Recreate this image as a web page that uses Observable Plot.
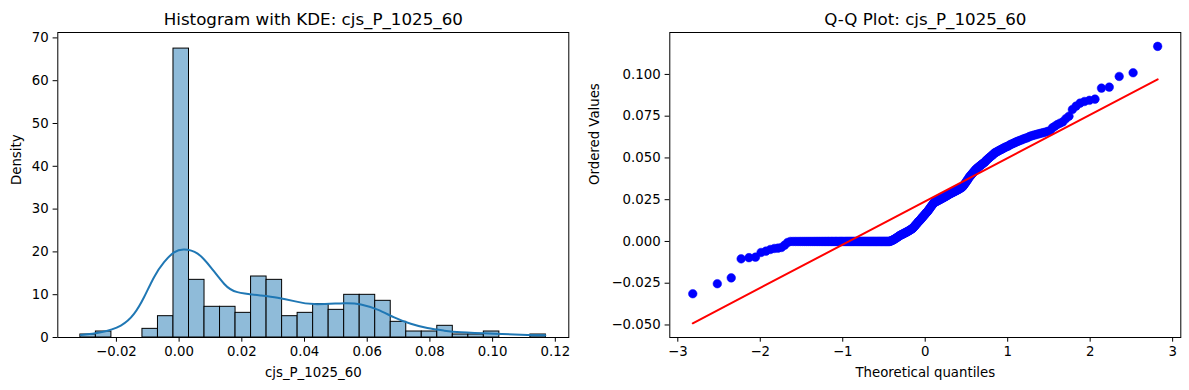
<!DOCTYPE html>
<html><head><meta charset="utf-8">
<script src="https://cdn.jsdelivr.net/npm/d3@7"></script>
<script src="https://cdn.jsdelivr.net/npm/@observablehq/plot@0.6"></script>
<style>
html,body{margin:0;padding:0;background:#fff;}
#wrap{position:relative;width:1189px;height:390px;overflow:hidden;}
#left,#right{position:absolute;top:0;}
#left{left:0px;} #right{left:580px;}
svg{overflow:visible;}
</style></head><body>
<div id="wrap"><div id="left"></div><div id="right"></div></div>
<script>
// ---- Data ----
const varName = "cjs_P_1025_60";
const titleLeft = "Histogram with KDE: " + varName;
const titleRight = "Q-Q Plot: " + varName;

// histogram: 30 equal bins from binStart, density per bin
const binStart = -0.0315;
const binEnd = 0.1170;
const histDensity = [0.70, 1.40, 0, 0, 2.02, 4.98, 67.5, 13.47, 7.17, 7.17,
                     5.76, 14.25, 13.47, 4.98, 5.76, 7.79, 6.46, 9.97, 9.97, 8.57,
                     3.66, 1.40, 1.40, 2.73, 0.70, 0.70, 1.40, 0, 0, 0.70];

// KDE curve points
const kdeX = [-0.0313, -0.0250, -0.0186, -0.0144, -0.0112, -0.0080, -0.0048, -0.0016, 0.0016, 0.0059,
              0.0101, 0.0144, 0.0186, 0.0261, 0.0314, 0.0367, 0.0431, 0.0526, 0.0580, 0.0633,
              0.0686, 0.0739, 0.0792, 0.0845, 0.0899, 0.1005, 0.1111, 0.1168];
const kdeY = [0.6, 1.24, 2.8, 5.5, 9.4, 14.1, 17.6, 19.9, 20.56, 19.6,
              16.4, 12.5, 10.6, 9.8, 9.3, 8.5, 7.8, 8.0, 7.7, 6.5,
              4.7, 3.2, 2.2, 1.6, 1.2, 0.85, 0.6, 0.5];

// ordered sample values for the Q-Q plot
const orderedValues = [
 -0.0313,-0.0253,-0.0218,-0.0104,-0.0097,-0.0094,-0.0066,-0.0058,-0.0048,-0.0042,-0.0040,-0.0036,-0.0022,-0.0006,
 0,0,0,0,0,0,0,0,0,0,0,0,0,0,0,0,0,0,0,0,
 0,0,0,0,0,0,0,0,0,0,0,0,0,0,0,0,0,0,0,0,
 0,0,0,0,0,0,0,0,0,0,0,0,0,0,0,0,0,0,0,0,
 0,0,0,0,0,0,0,0,0,0,0,0,0,0,0,0,0,0,0,0,
 0,0,
 0.0002,0.0004,0.0006,0.0008,0.0011,0.0013,0.0016,0.0019,0.0022,0.0025,0.0028,0.0031,
 0.0035,0.0037,0.0040,0.0042,0.0044,0.0046,0.0049,0.0051,0.0053,0.0056,0.0058,0.0060,0.0063,0.0066,0.0068,0.0071,0.0074,0.0077,0.0080,
 0.0085,0.0090,0.0095,0.0100,0.0105,0.0110,0.0115,0.0120,0.0124,0.0128,
 0.0134,0.0139,0.0144,0.0149,0.0154,0.0159,0.0164,0.0169,0.0174,0.0178,
 0.0184,0.0190,0.0196,0.0202,0.0208,0.0214,0.0220,0.0226,
 0.0232,0.0234,0.0236,0.0239,0.0241,0.0243,0.0246,0.0248,0.0250,0.0253,0.0255,0.0257,0.0260,0.0262,0.0265,0.0267,0.0270,0.0272,0.0275,0.0277,
 0.0281,0.0283,0.0286,0.0288,0.0290,0.0293,0.0295,0.0297,0.0300,0.0302,0.0304,0.0307,0.0309,0.0312,0.0314,0.0317,0.0320,0.0323,0.0326,
 0.0332,0.0338,0.0345,0.0352,0.0359,0.0366,0.0373,
 0.0382,0.0388,0.0394,0.0400,0.0406,0.0412,0.0418,0.0424,
 0.0431,0.0435,0.0440,0.0444,0.0449,0.0453,0.0457,0.0462,0.0466,0.0470,0.0474,
 0.0481,0.0486,0.0492,0.0497,0.0502,0.0507,0.0512,0.0517,0.0522,
 0.0529,0.0532,0.0536,0.0539,0.0543,0.0546,0.0550,0.0553,0.0557,0.0560,0.0564,0.0567,0.0570,0.0573,
 0.0579,0.0582,0.0585,0.0589,0.0592,0.0596,0.0599,0.0603,0.0606,0.0609,0.0613,0.0616,0.0619,0.0622,
 0.0628,0.0631,0.0634,0.0637,0.0640,0.0643,0.0646,0.0649,0.0652,0.0655,0.0659,0.0663,
 0.0680,0.0690,0.0700,0.0708,0.0716,
 0.0735,0.0750,
 0.0790,0.0810,
 0.0828,0.0838,0.0845,0.0852,
 0.0918,0.0924,0.0988,0.1010,0.1168
];

// tick values
const histXTicks = [-0.02, 0.00, 0.02, 0.04, 0.06, 0.08, 0.10, 0.12];
const histYTicks = [0, 10, 20, 30, 40, 50, 60, 70];
const qqXTicks = [-3, -2, -1, 0, 1, 2, 3];
const qqYTicks = [-0.050, -0.025, 0.000, 0.025, 0.050, 0.075, 0.100];

// ---- helpers ----
function normInv(p){
  const a=[-3.969683028665376e+01,2.209460984245205e+02,-2.759285104469687e+02,1.383577518672690e+02,-3.066479806614716e+01,2.506628277459239e+00];
  const b=[-5.447609879822406e+01,1.615858368580409e+02,-1.556989798598866e+02,6.680131188771972e+01,-1.328068155288572e+01];
  const c=[-7.784894002430293e-03,-3.223964580411365e-01,-2.400758277161838e+00,-2.549732539343734e+00,4.374664141464968e+00,2.938163982698783e+00];
  const d=[7.784695709041462e-03,3.224671290700398e-01,2.445134137142996e+00,3.754408661907416e+00];
  const pl=0.02425, ph=1-pl; let q, r;
  if (p < pl) { q=Math.sqrt(-2*Math.log(p)); return (((((c[0]*q+c[1])*q+c[2])*q+c[3])*q+c[4])*q+c[5])/((((d[0]*q+d[1])*q+d[2])*q+d[3])*q+1); }
  if (p <= ph) { q=p-0.5; r=q*q; return (((((a[0]*r+a[1])*r+a[2])*r+a[3])*r+a[4])*r+a[5])*q/(((((b[0]*r+b[1])*r+b[2])*r+b[3])*r+b[4])*r+1); }
  q=Math.sqrt(-2*Math.log(1-p)); return -(((((c[0]*q+c[1])*q+c[2])*q+c[3])*q+c[4])*q+c[5])/((((d[0]*q+d[1])*q+d[2])*q+d[3])*q+1);
}

const FONT = "DejaVu Sans";
const TICK = 13.3;
const TITLE = 16.7;
const style = {fontFamily: FONT, fontSize: TICK + "px", color: "black", background: "white", overflow: "visible"};

// ---- left: histogram + KDE ----
const nb = histDensity.length;
const bw = (binEnd - binStart) / nb;
const histData = histDensity.map((y, i) => ({x1: binStart + i * bw, x2: binStart + (i + 1) * bw, y})).filter(d => d.y > 0);
const kdeData = kdeX.map((x, i) => ({x, y: kdeY[i]}));

const left = Plot.plot({
  width: 580, height: 390,
  marginLeft: 57.3, marginRight: 11.7, marginTop: 32, marginBottom: 53,
  style,
  x: {domain: [-0.0387, 0.1243]},
  y: {domain: [0, 71.26]},
  marks: [
    Plot.rect(histData, {x1: "x1", x2: "x2", y1: 0, y2: "y", fill: "#8fbbd9", stroke: "black", strokeWidth: 1}),
    Plot.line(kdeData, {x: "x", y: "y", stroke: "#1f77b4", strokeWidth: 2, curve: "natural"}),
    Plot.frame({stroke: "black", strokeWidth: 1}),
    Plot.axisX(histXTicks, {tickFormat: d3.format(".2f"), tickSize: 4.7, tickPadding: 4, label: null, fontSize: TICK}),
    Plot.axisY(histYTicks, {tickFormat: d3.format("d"), tickSize: 4.7, tickPadding: 4.5, label: null, fontSize: TICK}),
    Plot.text([titleLeft], {text: d => d, frameAnchor: "top", lineAnchor: "bottom", dy: -8, fontSize: TITLE, fill: "black"}),
    Plot.text([varName], {text: d => d, frameAnchor: "bottom", lineAnchor: "bottom", dy: 39, fontSize: TICK, fill: "black"}),
    Plot.text(["Density"], {text: d => d, frameAnchor: "left", rotate: -90, dx: -41, fontSize: TICK, fill: "black"})
  ]
});
document.getElementById("left").appendChild(left);

// ---- right: Q-Q plot ----
const n = orderedValues.length;
const probs = orderedValues.map((_, i) => i === 0 ? 1 - Math.pow(0.5, 1 / n)
                                    : i === n - 1 ? Math.pow(0.5, 1 / n)
                                    : (i + 1 - 0.3175) / (n + 0.365));
const qq = orderedValues.map((v, i) => ({q: normInv(probs[i]), v}));
const mq = d3.mean(qq, d => d.q), mv = d3.mean(qq, d => d.v);
const slope = d3.sum(qq, d => (d.q - mq) * (d.v - mv)) / d3.sum(qq, d => (d.q - mq) ** 2);
const intercept = mv - slope * mq;
const fit = [qq[0], qq[n - 1]].map(d => ({q: d.q, v: intercept + slope * d.q}));

const right = Plot.plot({
  width: 609, height: 390,
  marginLeft: 89.3, marginRight: 8.7, marginTop: 32, marginBottom: 53,
  style,
  x: {domain: [-3.097, 3.099]},
  y: {domain: [-0.0575, 0.1251]},
  marks: [
    Plot.dot(qq, {x: "q", y: "v", r: 4.3, fill: "blue", stroke: "blue", strokeWidth: 0.5}),
    Plot.line(fit, {x: "q", y: "v", stroke: "red", strokeWidth: 2}),
    Plot.frame({stroke: "black", strokeWidth: 1}),
    Plot.axisX(qqXTicks, {tickFormat: d3.format("d"), tickSize: 4.7, tickPadding: 4, label: null, fontSize: TICK}),
    Plot.axisY(qqYTicks, {tickFormat: d3.format(".3f"), tickSize: 4.7, tickPadding: 4.5, label: null, fontSize: TICK}),
    Plot.text([titleRight], {text: d => d, frameAnchor: "top", lineAnchor: "bottom", dy: -8, fontSize: TITLE, fill: "black"}),
    Plot.text(["Theoretical quantiles"], {text: d => d, frameAnchor: "bottom", lineAnchor: "bottom", dy: 39, fontSize: TICK, fill: "black"}),
    Plot.text(["Ordered Values"], {text: d => d, frameAnchor: "left", rotate: -90, dx: -75.3, fontSize: TICK, fill: "black"})
  ]
});
document.getElementById("right").appendChild(right);
</script>
</body></html>
